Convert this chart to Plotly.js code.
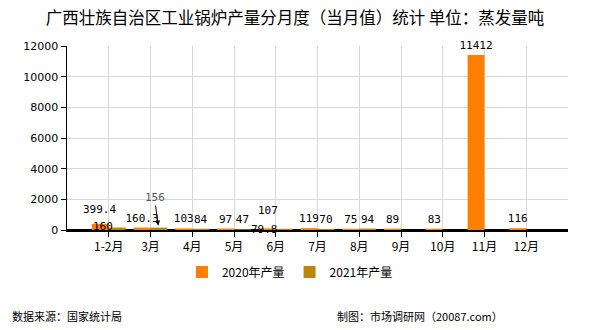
<!DOCTYPE html>
<html><head><meta charset="utf-8">
<script src="https://cdn.plot.ly/plotly-3.0.1.min.js"></script>
<style>html,body{margin:0;padding:0;background:#fff}#c{width:590px;height:330px}</style>
</head><body><div id="c"></div>
<script>
const months = ["1-2月","3月","4月","5月","6月","7月","8月","9月","10月","11月","12月"];
const prod2020 = [399.4,160.3,103,97,107,119,75,89,83,11412,116];
const prod2021 = [160,156,84,47,79.8,70,94,null,null,null,null];
const seriesNames = ["2020年产量","2021年产量"];
const yTicks = [0,2000,4000,6000,8000,10000,12000];

const labelFont = {family:"DejaVu Sans Mono, monospace", size:11, color:"#000"};
// some labels are drawn as annotations (moved as in the reference)
const moved2020 = [0,4];
const moved2021 = [0,1,4];
const t2020 = prod2020.map((v,i)=> moved2020.includes(i) ? "" : String(v));
const t2021 = prod2021.map((v,i)=> (v===null || moved2021.includes(i)) ? "" : String(v));
const data = [
  {type:"bar", name:seriesNames[0], x:months, y:prod2020, marker:{color:"#FF8000"},
   text:t2020, textposition:"outside", constraintext:"none", textfont:labelFont, cliponaxis:false, hoverinfo:"none"},
  {type:"bar", name:seriesNames[1], x:months, y:prod2021, marker:{color:"#B8860B"},
   text:t2021, textposition:"outside", constraintext:"none", textfont:labelFont, cliponaxis:false, hoverinfo:"none"}
];
const lab = (x, y, text, xs, ys, anchor) => ({x, y, xref:"x", yref:"y", text:String(text), showarrow:false,
  xanchor:"center", yanchor:anchor, xshift:xs, yshift:ys, font:labelFont, borderpad:0});
const layout = {
  width:590, height:330,
  margin:{l:67, r:22, t:46, b:100},
  paper_bgcolor:"#fff", plot_bgcolor:"#fff",
  font:{family:"Noto Sans CJK SC, sans-serif", size:12, color:"#000"},
  title:{text:"广西壮族自治区工业锅炉产量分月度（当月值）统计 单位：蒸发量吨",
         font:{family:"Noto Sans CJK SC", size:16.5, color:"#000"},
         x:0.5, xref:"container", xanchor:"center", y:0.945, yref:"container", yanchor:"middle"},
  barmode:"group", bargap:0.19, bargroupgap:0,
  showlegend:true,
  legend:{orientation:"h", x:0.445, xanchor:"center", y:-0.228, yanchor:"middle",
          font:{family:"Noto Sans CJK SC", size:12, color:"#000"}, itemwidth:30, traceorder:"normal"},
  xaxis:{type:"category", range:[-1,11], showgrid:true, gridcolor:"#d8d8d8", gridwidth:1,
         showline:true, linecolor:"#000", linewidth:1.5, ticks:"outside", ticklen:5, tickcolor:"#000",
         tickfont:{family:"Noto Sans CJK SC", size:12, color:"#000"}, zeroline:false, fixedrange:true},
  yaxis:{range:[0,12000], tickvals:yTicks, ticktext:yTicks.map(String), showgrid:true, gridcolor:"#d8d8d8",
         showline:true, linecolor:"#000", linewidth:1.5, ticks:"outside", ticklen:5, tickcolor:"#000",
         tickfont:{family:"DejaVu Sans", size:11, color:"#000"}, zeroline:true, zerolinecolor:"#000", zerolinewidth:1.5},
  annotations:[
    {x:months[1], y:prod2021[1], xref:"x", yref:"y", text:String(prod2021[1]), showarrow:true,
     arrowhead:2, arrowsize:1, arrowwidth:1, arrowcolor:"#000", ax:-4, ay:-30, xshift:8,
     font:{family:"DejaVu Sans Mono", size:11, color:"#555"}, standoff:2},
    lab(months[0], prod2020[0], prod2020[0], -9, 7, "bottom"),
    lab(months[4], prod2020[4], prod2020[4], -8, 10, "bottom"),
    lab(months[0], 0, prod2021[0], -6, 4, "middle"),
    lab(months[4], 0, prod2021[4], -11, 1, "middle"),
    {xref:"paper", yref:"paper", x:-0.114, y:-0.467, xanchor:"left", yanchor:"middle", showarrow:false,
     text:"数据来源：国家统计局", font:{family:"Noto Sans CJK SC", size:11, color:"#000"}},
    {xref:"paper", yref:"paper", x:0.874, y:-0.467, xanchor:"right", yanchor:"middle", showarrow:false,
     text:"制图：市场调研网（20087.com）", font:{family:"Noto Sans CJK SC", size:11, color:"#000"}}
  ]
};
Plotly.newPlot("c", data, layout, {displayModeBar:false, staticPlot:true});
</script></body></html>
